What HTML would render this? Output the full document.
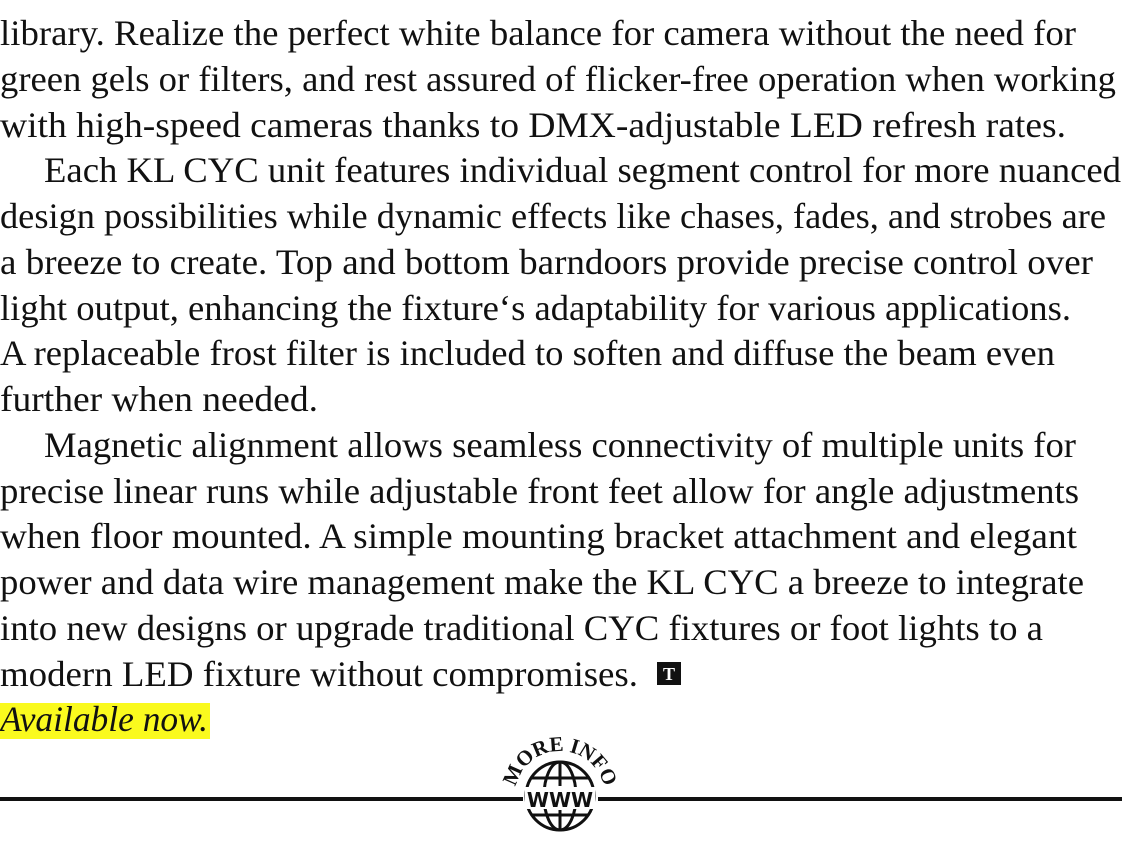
<!DOCTYPE html>
<html><head><meta charset="utf-8"><style>
html,body{margin:0;padding:0;background:#fff;}
svg{display:block;}
text{font-family:"Liberation Serif",serif;font-size:36px;fill:#111;}
</style></head><body>
<svg width="1122" height="860" viewBox="0 0 1122 860">
<rect x="0" y="703" width="210" height="36" fill="#fafa1e"/>
<g>
<text x="0" y="45" textLength="1076" lengthAdjust="spacingAndGlyphs">library. Realize the perfect white balance for camera without the need for</text>
<text x="0" y="91" textLength="1116" lengthAdjust="spacingAndGlyphs">green gels or filters, and rest assured of flicker-free operation when working</text>
<text x="0" y="137" textLength="1066" lengthAdjust="spacingAndGlyphs">with high-speed cameras thanks to DMX-adjustable LED refresh rates.</text>
<text x="44" y="182" textLength="1077" lengthAdjust="spacingAndGlyphs">Each KL CYC unit features individual segment control for more nuanced</text>
<text x="0" y="228" textLength="1106" lengthAdjust="spacingAndGlyphs">design possibilities while dynamic effects like chases, fades, and strobes are</text>
<text x="0" y="274" textLength="1093" lengthAdjust="spacingAndGlyphs">a breeze to create. Top and bottom barndoors provide precise control over</text>
<text x="0" y="320" textLength="1071" lengthAdjust="spacingAndGlyphs">light output, enhancing the fixture‘s adaptability for various applications.</text>
<text x="0" y="365" textLength="1055" lengthAdjust="spacingAndGlyphs">A replaceable frost filter is included to soften and diffuse the beam even</text>
<text x="0" y="411" textLength="318" lengthAdjust="spacingAndGlyphs">further when needed.</text>
<text x="44" y="457" textLength="1032" lengthAdjust="spacingAndGlyphs">Magnetic alignment allows seamless connectivity of multiple units for</text>
<text x="0" y="503" textLength="1079" lengthAdjust="spacingAndGlyphs">precise linear runs while adjustable front feet allow for angle adjustments</text>
<text x="0" y="548" textLength="1077" lengthAdjust="spacingAndGlyphs">when floor mounted. A simple mounting bracket attachment and elegant</text>
<text x="0" y="594" textLength="1084" lengthAdjust="spacingAndGlyphs">power and data wire management make the KL CYC a breeze to integrate</text>
<text x="0" y="640" textLength="1043" lengthAdjust="spacingAndGlyphs">into new designs or upgrade traditional CYC fixtures or foot lights to a</text>
<text x="0" y="686" textLength="638" lengthAdjust="spacingAndGlyphs">modern LED fixture without compromises.</text>
<text x="0" y="731" textLength="208" lengthAdjust="spacingAndGlyphs" style="font-style:italic">Available now.</text>
</g>
<rect x="657" y="662" width="24" height="23" fill="#111"/>
<text x="669" y="680" text-anchor="middle" style="font-size:18px;font-weight:bold;fill:#fff">T</text>
<rect x="0" y="797" width="523" height="4" fill="#111"/>
<rect x="598" y="797" width="524" height="4" fill="#111"/>
<g fill="none" stroke="#111" stroke-width="3">
<circle cx="560" cy="796" r="34"/>
<ellipse cx="560" cy="796" rx="16" ry="34"/>
<line x1="560" y1="762" x2="560" y2="786"/>
<line x1="560" y1="810" x2="560" y2="830"/>
<line x1="531" y1="778" x2="589" y2="778"/>
<line x1="531" y1="815" x2="589" y2="815"/>
</g>
<rect x="525" y="787" width="70" height="22" fill="#fff"/>
<text x="560" y="807" text-anchor="middle" style="font-family:'DejaVu Sans',sans-serif;font-size:20px;font-weight:bold">WWW</text>
<defs><path id="arc" d="M515,796 A45,45 0 0 1 605,796"/></defs>
<text style="font-size:21px;font-weight:bold"><textPath href="#arc" startOffset="50%" text-anchor="middle">MORE INFO</textPath></text>
</svg>
</body></html>
